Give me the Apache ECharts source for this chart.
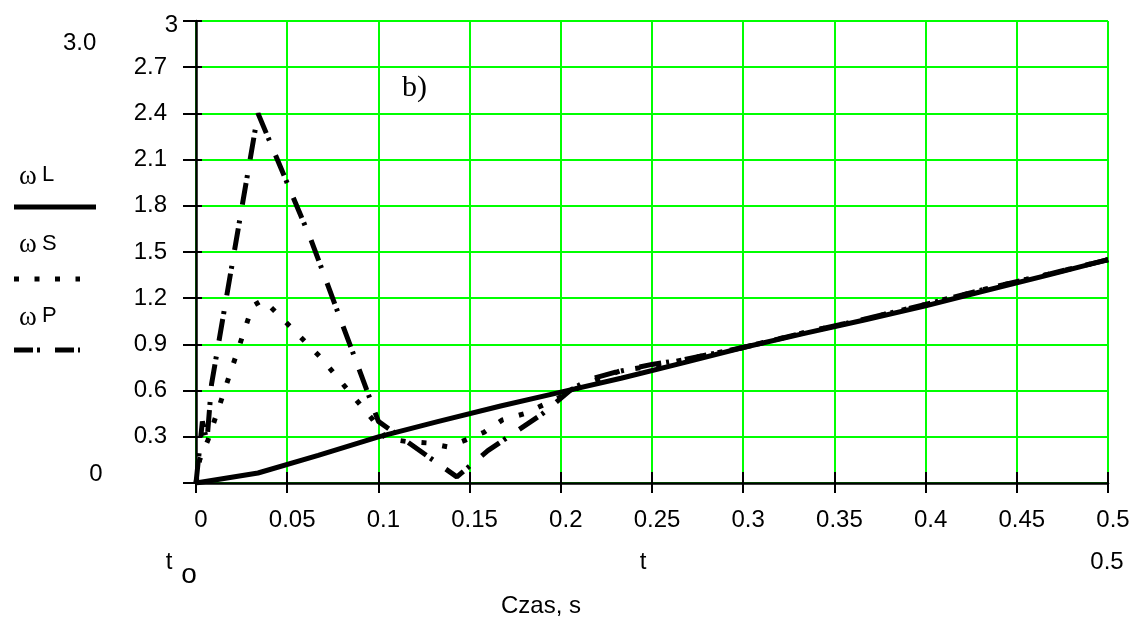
<!DOCTYPE html>
<html>
<head>
<meta charset="utf-8">
<script src="https://cdn.jsdelivr.net/npm/echarts@6/dist/echarts.min.js"></script>
<style>
html,body{margin:0;padding:0;background:#fff;}
#chart{width:1138px;height:625px;}
</style>
</head>
<body>
<div id="chart"></div>
<script>
// ---- data ----
const xTickLabels = ['0','0.05','0.1','0.15','0.2','0.25','0.3','0.35','0.4','0.45','0.5'];
const yTickLabels = ['','0.3','0.6','0.9','1.2','1.5','1.8','2.1','2.4','2.7',''];

const tL = [0, 0.034, 0.067, 0.1, 0.133, 0.167, 0.2, 0.233, 0.267, 0.3, 0.333, 0.367, 0.4, 0.433, 0.467, 0.5];
const wL = [0, 0.065, 0.18, 0.30, 0.40, 0.50, 0.59, 0.68, 0.78, 0.88, 0.97, 1.06, 1.15, 1.25, 1.35, 1.45];

const tS = [0, 0.002, 0.0066, 0.031, 0.037, 0.068, 0.097, 0.104, 0.115, 0.127, 0.138, 0.148, 0.158, 0.168, 0.18, 0.2, 0.215, 0.233, 0.25, 0.267, 0.3, 0.333, 0.367, 0.4, 0.433, 0.467, 0.5];
const wS = [0, 0.15, 0.28, 1.15, 1.19, 0.82, 0.41, 0.29, 0.27, 0.26, 0.235, 0.28, 0.33, 0.41, 0.45, 0.56, 0.65, 0.73, 0.76, 0.80, 0.88, 0.975, 1.065, 1.16, 1.26, 1.355, 1.45];

const tP = [0, 0.0035, 0.006, 0.0085, 0.034, 0.063, 0.1, 0.143, 0.16, 0.175, 0.19, 0.205, 0.215, 0.23, 0.25, 0.267, 0.3, 0.333, 0.367, 0.4, 0.433, 0.467, 0.5];
const wP = [0, 0.40, 0.27, 0.64, 2.40, 1.58, 0.40, 0.04, 0.21, 0.33, 0.45, 0.60, 0.67, 0.72, 0.77, 0.80, 0.88, 0.975, 1.065, 1.16, 1.26, 1.355, 1.45];

const seriesNames = ['ωL','ωS','ωP'];

function zip(a, b){ return a.map((v,i)=>[v, b[i]]); }

const GREEN = '#00ff00';
const SANS = '"Liberation Sans", Arial, sans-serif';
const SERIF = '"Liberation Serif", "Times New Roman", serif';

const chart = echarts.init(document.getElementById('chart'), null, {renderer:'canvas'});

const option = {
  animation: false,
  backgroundColor: '#ffffff',
  grid: {left: 196, right: 30, top: 21, bottom: 142, containLabel: false, outerBoundsMode: 'none'},
  xAxis: [
    {
      type: 'value', min: 0, max: 0.5, interval: 0.05,
      axisLine: {show: true, onZero: false, lineStyle: {color: '#000', width: 2.5}},
      axisTick: {show: true, inside: false, length: 10, lineStyle: {color: '#000', width: 2}},
      axisLabel: {
        show: true, margin: 25, color: '#000',
        fontFamily: SANS, fontSize: 24, padding: [0,0,0,10],
        formatter: v => xTickLabels[Math.round(v/0.05)]
      },
      splitLine: {show: true, lineStyle: {color: GREEN, width: 2}}
    },
    {
      type: 'value', min: 0, max: 0.5, interval: 0.05, position: 'bottom',
      axisLine: {show: false},
      axisTick: {show: true, inside: true, length: 11, lineStyle: {color: '#000', width: 2}},
      axisLabel: {show: false},
      splitLine: {show: false}
    }
  ],
  yAxis: [
    {
      type: 'value', min: 0, max: 3, interval: 0.3,
      axisLine: {show: true, onZero: false, lineStyle: {color: '#000', width: 2.5}},
      axisTick: {show: true, inside: false, length: 13, lineStyle: {color: '#000', width: 2}},
      axisLabel: {
        show: true, margin: 29, color: '#000',
        fontFamily: SANS, fontSize: 24, padding: [8,0,0,0],
        formatter: v => yTickLabels[Math.round(v/0.3)]
      },
      splitLine: {show: true, lineStyle: {color: GREEN, width: 2}}
    },
    {
      type: 'value', min: 0, max: 3, interval: 0.3, position: 'left',
      axisLine: {show: false},
      axisTick: {show: true, inside: true, length: 6, lineStyle: {color: '#000', width: 2}},
      axisLabel: {show: false},
      splitLine: {show: false}
    }
  ],
  series: [
    {
      name: seriesNames[1], type: 'line', data: zip(tS, wS), showSymbol: false, symbol: 'none',
      lineStyle: {color: '#000', width: 5, type: [5, 16], cap: 'butt'}, z: 3
    },
    {
      name: seriesNames[2], type: 'line', data: zip(tP, wP), showSymbol: false, symbol: 'none',
      lineStyle: {color: '#000', width: 5, type: [22, 5, 3, 16], cap: 'butt'}, z: 4
    },
    {
      name: seriesNames[0], type: 'line', data: zip(tL, wL), showSymbol: false, symbol: 'none',
      lineStyle: {color: '#000', width: 5}, z: 5
    }
  ],
  graphic: [
    // extra axis texts
    {type:'text', style:{text:'3', x:178, y:25, font:'24px '+SANS, fill:'#000', textAlign:'right', textVerticalAlign:'middle'}},
    {type:'text', style:{text:'3.0', x:63, y:43, font:'24px '+SANS, fill:'#000', textAlign:'left', textVerticalAlign:'middle'}},
    {type:'text', style:{text:'0', x:96, y:474, font:'24px '+SANS, fill:'#000', textAlign:'center', textVerticalAlign:'middle'}},
    {type:'text', style:{text:'b)', x:402, y:88, font:'30px '+SERIF, fill:'#000', textAlign:'left', textVerticalAlign:'middle'}},
    // legend
    {type:'text', style:{text:'ω', x:19, y:177, font:'27px '+SERIF, fill:'#000', textAlign:'left', textVerticalAlign:'middle'}},
    {type:'text', style:{text:'L', x:42, y:175, font:'22px '+SANS, fill:'#000', textAlign:'left', textVerticalAlign:'middle'}},
    {type:'line', shape:{x1:14, y1:207, x2:96, y2:207}, style:{stroke:'#000', lineWidth:5}},
    {type:'text', style:{text:'ω', x:19, y:245, font:'27px '+SERIF, fill:'#000', textAlign:'left', textVerticalAlign:'middle'}},
    {type:'text', style:{text:'S', x:42, y:244, font:'22px '+SANS, fill:'#000', textAlign:'left', textVerticalAlign:'middle'}},
    {type:'line', shape:{x1:14, y1:279, x2:80, y2:279}, style:{stroke:'#000', lineWidth:5, lineDash:[5,15.5]}},
    {type:'text', style:{text:'ω', x:19, y:318, font:'27px '+SERIF, fill:'#000', textAlign:'left', textVerticalAlign:'middle'}},
    {type:'text', style:{text:'P', x:42, y:316, font:'22px '+SANS, fill:'#000', textAlign:'left', textVerticalAlign:'middle'}},
    {type:'line', shape:{x1:14, y1:350, x2:80, y2:350}, style:{stroke:'#000', lineWidth:5, lineDash:[19,4,3,15]}},
    // bottom texts
    {type:'text', style:{text:'t', x:169, y:562, font:'24px '+SANS, fill:'#000', textAlign:'center', textVerticalAlign:'middle'}},
    {type:'text', style:{text:'o', x:189, y:575, font:'28px '+SANS, fill:'#000', textAlign:'center', textVerticalAlign:'middle'}},
    {type:'text', style:{text:'t', x:643, y:562, font:'24px '+SANS, fill:'#000', textAlign:'center', textVerticalAlign:'middle'}},
    {type:'text', style:{text:'0.5', x:1107, y:562, font:'24px '+SANS, fill:'#000', textAlign:'center', textVerticalAlign:'middle'}},
    {type:'text', style:{text:'Czas, s', x:541, y:606, font:'24px '+SANS, fill:'#000', textAlign:'center', textVerticalAlign:'middle'}}
  ]
};
chart.setOption(option);
</script>
</body>
</html>
